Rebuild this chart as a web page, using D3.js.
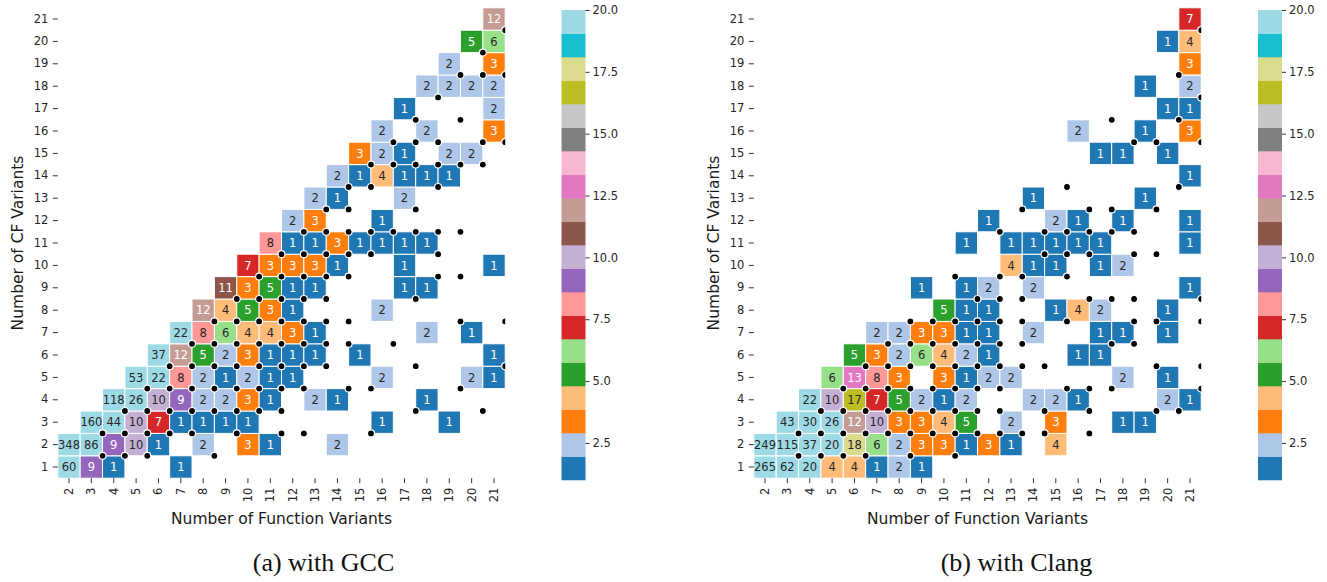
<!DOCTYPE html>
<html>
<head>
<meta charset="utf-8">
<script src="https://cdn.jsdelivr.net/npm/d3@7"></script>
<style>
  body { margin: 0; background: #fff; }
  svg { display: block; }
</style>
</head>
<body>
<svg id="chart" width="1327" height="582"></svg>
<script>
// Axis categories
const fnVariants = [2, 3, 4, 5, 6, 7, 8, 9, 10, 11, 12, 13, 14, 15, 16, 17, 18, 19, 20, 21];
const cfVariants = [1, 2, 3, 4, 5, 6, 7, 8, 9, 10, 11, 12, 13, 14, 15, 16, 17, 18, 19, 20, 21];
const colorbarTicks = [2.5, 5, 7.5, 10, 12.5, 15, 17.5, 20];

// GCC: [function variants, CF variants, count]
const gccCells = [
  [2,1,60],[3,1,9],[4,1,1],[7,1,1],
  [2,2,348],[3,2,86],[4,2,9],[5,2,10],[6,2,1],[8,2,2],[10,2,3],[11,2,1],[14,2,2],
  [3,3,160],[4,3,44],[5,3,10],[6,3,7],[7,3,1],[8,3,1],[9,3,1],[10,3,1],[16,3,1],[19,3,1],
  [4,4,118],[5,4,26],[6,4,10],[7,4,9],[8,4,2],[9,4,2],[10,4,3],[11,4,1],[13,4,2],[14,4,1],[18,4,1],
  [5,5,53],[6,5,22],[7,5,8],[8,5,2],[9,5,1],[10,5,2],[11,5,1],[12,5,1],[16,5,2],[20,5,2],[21,5,1],
  [6,6,37],[7,6,12],[8,6,5],[9,6,2],[10,6,3],[11,6,1],[12,6,1],[13,6,1],[15,6,1],[21,6,1],
  [7,7,22],[8,7,8],[9,7,6],[10,7,4],[11,7,4],[12,7,3],[13,7,1],[18,7,2],[20,7,1],
  [8,8,12],[9,8,4],[10,8,5],[11,8,3],[12,8,1],[16,8,2],
  [9,9,11],[10,9,3],[11,9,5],[12,9,1],[13,9,1],[17,9,1],[18,9,1],
  [10,10,7],[11,10,3],[12,10,3],[13,10,3],[14,10,1],[17,10,1],[21,10,1],
  [11,11,8],[12,11,1],[13,11,1],[14,11,3],[15,11,1],[16,11,1],[17,11,1],[18,11,1],
  [12,12,2],[13,12,3],[16,12,1],
  [13,13,2],[14,13,1],[17,13,2],
  [14,14,2],[15,14,1],[16,14,4],[17,14,1],[18,14,1],[19,14,1],
  [15,15,3],[16,15,2],[17,15,1],[19,15,2],[20,15,2],
  [16,16,2],[18,16,2],[21,16,3],
  [17,17,1],[21,17,2],
  [18,18,2],[19,18,2],[20,18,2],[21,18,2],
  [19,19,2],[21,19,3],
  [20,20,5],[21,20,6],
  [21,21,12]
];

// GCC markers, placed on cell corners
const gccDots = [
  [3.5,1.5],[4.5,1.5],[5.5,1.5],[8.5,1.5],
  [3.5,2.5],[4.5,2.5],[5.5,2.5],[6.5,2.5],[7.5,2.5],[9.5,2.5],[11.5,2.5],[12.5,2.5],[15.5,2.5],
  [4.5,3.5],[5.5,3.5],[6.5,3.5],[7.5,3.5],[8.5,3.5],[9.5,3.5],[10.5,3.5],[11.5,3.5],[17.5,3.5],[20.5,3.5],
  [5.5,4.5],[6.5,4.5],[7.5,4.5],[8.5,4.5],[9.5,4.5],[10.5,4.5],[11.5,4.5],[12.5,4.5],[14.5,4.5],[15.5,4.5],[19.5,4.5],
  [6.5,5.5],[7.5,5.5],[8.5,5.5],[9.5,5.5],[10.5,5.5],[11.5,5.5],[12.5,5.5],[13.5,5.5],[17.5,5.5],[21.5,5.5],
  [7.5,6.5],[8.5,6.5],[9.5,6.5],[10.5,6.5],[11.5,6.5],[12.5,6.5],[13.5,6.5],[14.5,6.5],[16.5,6.5],
  [8.5,7.5],[9.5,7.5],[10.5,7.5],[11.5,7.5],[12.5,7.5],[13.5,7.5],[14.5,7.5],[19.5,7.5],[21.5,7.5],
  [9.5,8.5],[10.5,8.5],[11.5,8.5],[12.5,8.5],[13.5,8.5],[17.5,8.5],
  [10.5,9.5],[11.5,9.5],[12.5,9.5],[13.5,9.5],[14.5,9.5],[18.5,9.5],[19.5,9.5],
  [11.5,10.5],[12.5,10.5],[13.5,10.5],[14.5,10.5],[15.5,10.5],[18.5,10.5],
  [12.5,11.5],[13.5,11.5],[14.5,11.5],[15.5,11.5],[16.5,11.5],[17.5,11.5],[18.5,11.5],[19.5,11.5],
  [13.5,12.5],[14.5,12.5],[17.5,12.5],
  [14.5,13.5],[15.5,13.5],[18.5,13.5],
  [15.5,14.5],[16.5,14.5],[17.5,14.5],[18.5,14.5],[19.5,14.5],[20.5,14.5],
  [16.5,15.5],[17.5,15.5],[18.5,15.5],[20.5,15.5],[21.5,15.5],
  [17.5,16.5],[19.5,16.5],
  [18.5,17.5],
  [19.5,18.5],[20.5,18.5],[21.5,18.5],
  [20.5,19.5],
  [21.5,20.5]
];

// Clang: [function variants, CF variants, count]
const clangCells = [
  [2,1,265],[3,1,62],[4,1,20],[5,1,4],[6,1,4],[7,1,1],[8,1,2],[9,1,1],
  [2,2,249],[3,2,115],[4,2,37],[5,2,20],[6,2,18],[7,2,6],[8,2,2],[9,2,3],[10,2,3],[11,2,1],[12,2,3],[13,2,1],[15,2,4],
  [3,3,43],[4,3,30],[5,3,26],[6,3,12],[7,3,10],[8,3,3],[9,3,3],[10,3,4],[11,3,5],[13,3,2],[15,3,3],[18,3,1],[19,3,1],
  [4,4,22],[5,4,10],[6,4,17],[7,4,7],[8,4,5],[9,4,2],[10,4,1],[11,4,2],[14,4,2],[15,4,2],[16,4,1],[20,4,2],[21,4,1],
  [5,5,6],[6,5,13],[7,5,8],[8,5,3],[10,5,3],[11,5,1],[12,5,2],[13,5,2],[18,5,2],[20,5,1],
  [6,6,5],[7,6,3],[8,6,2],[9,6,6],[10,6,4],[11,6,2],[12,6,1],[16,6,1],[17,6,1],
  [7,7,2],[8,7,2],[9,7,3],[10,7,3],[11,7,1],[12,7,1],[14,7,2],[17,7,1],[18,7,1],[20,7,1],
  [10,8,5],[11,8,1],[12,8,1],[15,8,1],[16,8,4],[17,8,2],[20,8,1],
  [9,9,1],[11,9,1],[12,9,2],[14,9,2],[21,9,1],
  [13,10,4],[14,10,1],[15,10,1],[17,10,1],[18,10,2],
  [11,11,1],[13,11,1],[14,11,1],[15,11,1],[16,11,1],[17,11,1],[21,11,1],
  [12,12,1],[15,12,2],[16,12,1],[18,12,1],[21,12,1],
  [14,13,1],[19,13,1],
  [21,14,1],
  [17,15,1],[18,15,1],[20,15,1],
  [16,16,2],[19,16,1],[21,16,3],
  [20,17,1],[21,17,1],
  [19,18,1],[21,18,2],
  [21,19,3],
  [20,20,1],[21,20,4],
  [21,21,7]
];

// Clang markers, placed on cell corners
const clangDots = [
  [3.5,1.5],[4.5,1.5],[5.5,1.5],[6.5,1.5],[8.5,1.5],[10.5,1.5],
  [3.5,2.5],[4.5,2.5],[5.5,2.5],[6.5,2.5],[7.5,2.5],[8.5,2.5],[9.5,2.5],[10.5,2.5],[11.5,2.5],[12.5,2.5],[13.5,2.5],[14.5,2.5],[16.5,2.5],
  [4.5,3.5],[5.5,3.5],[6.5,3.5],[7.5,3.5],[8.5,3.5],[9.5,3.5],[10.5,3.5],[11.5,3.5],[12.5,3.5],[14.5,3.5],[16.5,3.5],[19.5,3.5],[20.5,3.5],
  [5.5,4.5],[6.5,4.5],[7.5,4.5],[8.5,4.5],[9.5,4.5],[10.5,4.5],[11.5,4.5],[12.5,4.5],[15.5,4.5],[16.5,4.5],[17.5,4.5],[21.5,4.5],
  [6.5,5.5],[7.5,5.5],[8.5,5.5],[9.5,5.5],[10.5,5.5],[11.5,5.5],[12.5,5.5],[13.5,5.5],[14.5,5.5],[19.5,5.5],[21.5,5.5],
  [7.5,6.5],[8.5,6.5],[9.5,6.5],[10.5,6.5],[11.5,6.5],[12.5,6.5],[13.5,6.5],[17.5,6.5],[18.5,6.5],
  [8.5,7.5],[9.5,7.5],[10.5,7.5],[11.5,7.5],[12.5,7.5],[13.5,7.5],[15.5,7.5],[18.5,7.5],[19.5,7.5],[21.5,7.5],
  [11.5,8.5],[12.5,8.5],[13.5,8.5],[16.5,8.5],[17.5,8.5],[18.5,8.5],[21.5,8.5],
  [10.5,9.5],[12.5,9.5],[13.5,9.5],[15.5,9.5],
  [14.5,10.5],[15.5,10.5],[16.5,10.5],[18.5,10.5],[19.5,10.5],
  [12.5,11.5],[14.5,11.5],[15.5,11.5],[16.5,11.5],[17.5,11.5],[18.5,11.5],
  [13.5,12.5],[16.5,12.5],[17.5,12.5],[19.5,12.5],
  [15.5,13.5],[20.5,13.5],
  [18.5,15.5],[19.5,15.5],[21.5,15.5],
  [17.5,16.5],[20.5,16.5],
  [21.5,17.5],
  [20.5,18.5],
  [21.5,20.5]
];

// matplotlib "tab20"
const tab20 = ["#1f77b4","#aec7e8","#ff7f0e","#ffbb78","#2ca02c","#98df8a","#d62728","#ff9896",
  "#9467bd","#c5b0d5","#8c564b","#c49c94","#e377c2","#f7b6d2","#7f7f7f","#c7c7c7",
  "#bcbd22","#dbdb8d","#17becf","#9edae5"];
const vmin = 1, vmax = 20;
const color = d3.scaleQuantize().domain([vmin, vmax]).range(tab20);

// dark text on light cells, white on dark ones
function textColor(fill) {
  const c = d3.rgb(fill);
  const lin = v => { v /= 255; return v <= 0.03928 ? v / 12.92 : Math.pow((v + 0.055) / 1.055, 2.4); };
  const lum = 0.2126 * lin(c.r) + 0.7152 * lin(c.g) + 0.0722 * lin(c.b);
  return lum > 0.408 ? "#262626" : "#ffffff";
}

const SANS = "DejaVu Sans, sans-serif";
const svg = d3.select("#chart");
const W = 447.4, H = 470.4, hmTop = 7.8;

function panel(left, cbX, cells, dots, caption, captionX, clipId) {
  const g = svg.append("g");
  const x = d3.scaleBand().domain(fnVariants).range([left, left + W]);
  const y = d3.scaleBand().domain(cfVariants.slice().reverse()).range([hmTop, hmTop + H]);
  const xl = d3.scaleLinear().domain([1.5, 21.5]).range([left, left + W]);
  const yl = d3.scaleLinear().domain([0.5, 21.5]).range([hmTop + H, hmTop]);

  g.append("g").selectAll("rect").data(cells).join("rect")
    .attr("x", d => x(d[0])).attr("y", d => y(d[1]))
    .attr("width", x.bandwidth()).attr("height", y.bandwidth())
    .attr("fill", d => color(d[2]))
    .attr("stroke", "#fff").attr("stroke-width", 1);

  g.append("g").selectAll("text").data(cells).join("text")
    .attr("x", d => x(d[0]) + x.bandwidth() / 2)
    .attr("y", d => y(d[1]) + y.bandwidth() / 2)
    .attr("text-anchor", "middle").attr("dy", "0.36em")
    .style("font-family", SANS).style("font-size", "11.5px")
    .attr("fill", d => textColor(color(d[2])))
    .text(d => d[2]);

  svg.append("clipPath").attr("id", clipId).append("rect")
    .attr("x", left).attr("y", hmTop).attr("width", W).attr("height", H);
  g.append("g").attr("clip-path", `url(#${clipId})`)
    .selectAll("circle").data(dots).join("circle")
    .attr("cx", d => xl(d[0])).attr("cy", d => yl(d[1]))
    .attr("r", 3.5).attr("fill", "#000")
    .attr("stroke", "#fff").attr("stroke-width", 1.2);

  // axes
  const xAxis = g.append("g").attr("transform", `translate(0,${hmTop + H})`)
    .call(d3.axisBottom(x).tickSize(5).tickPadding(4));
  xAxis.select(".domain").remove();
  xAxis.selectAll(".tick line").attr("stroke", "#333");
  xAxis.selectAll(".tick text")
    .style("font-family", SANS).style("font-size", "11.5px").attr("fill", "#262626")
    .attr("transform", "rotate(-90)")
    .attr("text-anchor", "end").attr("x", -9.5).attr("y", 0).attr("dy", "0.35em");

  const yAxis = g.append("g").attr("transform", `translate(${left},0)`)
    .call(d3.axisLeft(y).tickSize(5).tickPadding(4.5));
  yAxis.select(".domain").remove();
  yAxis.selectAll(".tick line").attr("stroke", "#333");
  yAxis.selectAll(".tick text")
    .style("font-family", SANS).style("font-size", "11.5px").attr("fill", "#262626");

  g.append("text").attr("x", left + W / 2).attr("y", 523.5)
    .attr("text-anchor", "middle")
    .style("font-family", SANS).style("font-size", "15.5px").attr("fill", "#1a1a1a")
    .text("Number of Function Variants");
  g.append("text")
    .attr("transform", `translate(${left - 40.5},${hmTop + H / 2}) rotate(-90)`)
    .attr("text-anchor", "middle").attr("dy", "0.35em")
    .style("font-family", SANS).style("font-size", "15.5px").attr("fill", "#1a1a1a")
    .text("Number of CF Variants");

  // colorbar
  const cbTop = 10, cbBottom = 480, cbW = 24;
  const cy = d3.scaleLinear().domain([vmin, vmax]).range([cbBottom, cbTop]);
  const step = (vmax - vmin) / tab20.length;
  g.append("g").selectAll("rect").data(tab20).join("rect")
    .attr("x", cbX).attr("width", cbW)
    .attr("y", (c, i) => cy(vmin + (i + 1) * step))
    .attr("height", (c, i) => cy(vmin + i * step) - cy(vmin + (i + 1) * step) + 0.3)
    .attr("fill", c => c);
  const cbAxis = g.append("g").attr("transform", `translate(${cbX + cbW},0)`)
    .call(d3.axisRight(cy).tickValues(colorbarTicks).tickFormat(d3.format(".1f")).tickSize(4).tickPadding(3));
  cbAxis.select(".domain").remove();
  cbAxis.selectAll(".tick line").attr("stroke", "#333");
  cbAxis.selectAll(".tick text")
    .style("font-family", SANS).style("font-size", "11.5px").attr("fill", "#262626");

  // caption
  g.append("text").attr("x", captionX).attr("y", 571)
    .attr("text-anchor", "middle")
    .style("font-family", "Liberation Serif, serif").style("font-size", "26px")
    .attr("fill", "#111")
    .text(caption);
}

panel(57.8, 561.5, gccCells, gccDots, "(a) with GCC", 323.5, "clipGcc");
panel(753.8, 1258, clangCells, clangDots, "(b) with Clang", 1016.5, "clipClang");
</script>
</body>
</html>
